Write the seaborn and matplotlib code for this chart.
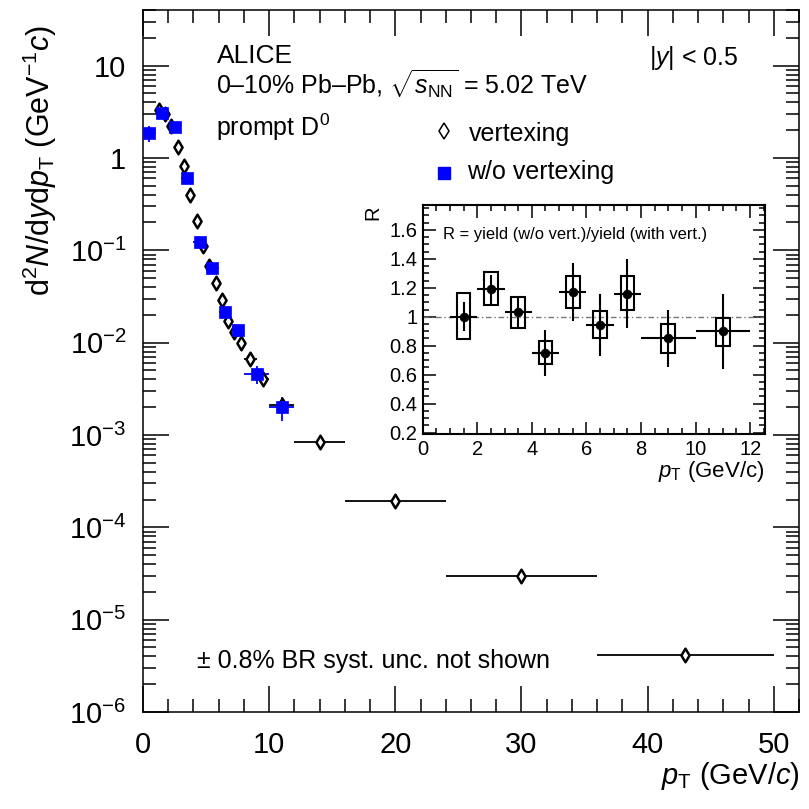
import numpy as np
import pandas as pd
import matplotlib
matplotlib.use("Agg")
import matplotlib.pyplot as plt
import seaborn as sns
from matplotlib.ticker import FixedLocator, MultipleLocator, LogLocator, FuncFormatter, NullFormatter
from matplotlib.patches import Rectangle

# ---------------- data ----------------
# vertexing analysis (open diamonds)
vtx_pt = [1.25, 1.75, 2.25, 2.75, 3.25, 3.75, 4.25, 4.75, 5.25, 5.75, 6.25, 6.75,
          7.25, 7.75, 8.5, 9.5, 11, 14, 20, 30, 43]
vtx_xerr = [0.25, 0.25, 0.25, 0.25, 0.25, 0.25, 0.25, 0.25, 0.25, 0.25, 0.25, 0.25,
            0.25, 0.25, 0.5, 0.5, 1, 2, 4, 6, 7]
vtx_yield = [3.3, 3.0, 2.2, 1.3, 0.82, 0.40, 0.21, 0.11, 0.067, 0.044, 0.029, 0.017,
             0.013, 0.0098, 0.0066, 0.0040, 0.0021, 8.3e-4, 1.95e-4, 3.0e-5, 4.1e-6]
vtx_relerr = [0.08, 0.06, 0.05, 0.05, 0.05, 0.05, 0.05, 0.05, 0.05, 0.05, 0.05, 0.06,
              0.06, 0.06, 0.06, 0.06, 0.06, 0.06, 0.07, 0.08, 0.12]

# without vertexing (blue squares)
nov_pt = [0.5, 1.5, 2.5, 3.5, 4.5, 5.5, 6.5, 7.5, 9, 11]
nov_xerr = [0.5, 0.5, 0.5, 0.5, 0.5, 0.5, 0.5, 0.5, 1, 1]
nov_yield = [1.87, 3.1, 2.15, 0.61, 0.124, 0.065, 0.0216, 0.0136, 0.0046, 0.0020]
nov_relerr = [0.2, 0.08, 0.06, 0.06, 0.08, 0.1, 0.12, 0.15, 0.22, 0.3]

# ratio inset
r_pt = [1.5, 2.5, 3.5, 4.5, 5.5, 6.5, 7.5, 9, 11]
r_xerr = [0.5, 0.5, 0.5, 0.5, 0.5, 0.5, 0.5, 1, 1]
r_val = [1.00, 1.19, 1.03, 0.75, 1.17, 0.945, 1.16, 0.85, 0.90]
r_stat = [0.10, 0.10, 0.115, 0.16, 0.20, 0.215, 0.24, 0.20, 0.26]
r_syst_lo = [0.845, 1.08, 0.925, 0.673, 1.06, 0.856, 1.05, 0.753, 0.80]
r_syst_hi = [1.167, 1.306, 1.134, 0.835, 1.28, 1.042, 1.28, 0.948, 0.988]

main_xticks = [0, 10, 20, 30, 40, 50]
main_yticks = [1e-6, 1e-5, 1e-4, 1e-3, 1e-2, 1e-1, 1, 10]
inset_xticks = [0, 2, 4, 6, 8, 10, 12]
inset_yticks = [0.2, 0.4, 0.6, 0.8, 1.0, 1.2, 1.4, 1.6]

# ---------------- style ----------------
sns.set_theme(style="ticks")
plt.rcParams['font.family'] = ['Liberation Sans', 'DejaVu Sans']
plt.rcParams['mathtext.fontset'] = 'custom'
plt.rcParams['mathtext.rm'] = 'Liberation Sans'
plt.rcParams['mathtext.it'] = 'Liberation Sans:italic'
plt.rcParams['mathtext.bf'] = 'Liberation Sans:bold'
plt.rcParams['axes.linewidth'] = 1.1
for k in ['text.color', 'axes.labelcolor', 'xtick.color', 'ytick.color', 'axes.edgecolor']:
    plt.rcParams[k] = 'black'

fig = plt.figure(figsize=(8.09, 8.09), dpi=100)
ax = fig.add_axes([143/809, 1-712/809, 656/809, 702/809])

df_vtx = pd.DataFrame({"pt": vtx_pt, "y": vtx_yield})
df_nov = pd.DataFrame({"pt": nov_pt, "y": nov_yield})

# error bars
ax.errorbar(vtx_pt, vtx_yield, xerr=vtx_xerr,
            yerr=np.array(vtx_yield) * np.array(vtx_relerr),
            fmt='none', ecolor='black', elinewidth=1.3, zorder=2)
ax.errorbar(nov_pt, nov_yield, xerr=nov_xerr,
            yerr=np.array(nov_yield) * np.array(nov_relerr),
            fmt='none', ecolor='#0000ff', elinewidth=1.3, zorder=3)

sns.scatterplot(data=df_vtx, x="pt", y="y", ax=ax, marker='d', s=48,
                facecolor='white', edgecolor='black', linewidth=1.8, zorder=4)
sns.scatterplot(data=df_nov, x="pt", y="y", ax=ax, marker='s', s=70,
                color='#0000ff', edgecolor='#0000ff', linewidth=0.5, zorder=5)

ax.set_yscale('log')
ax.set_xlim(0, 52)
ax.set_ylim(1e-6, 40)
ax.set_xlabel('')
ax.set_ylabel('')

ax.xaxis.set_major_locator(FixedLocator(main_xticks))
ax.xaxis.set_minor_locator(MultipleLocator(2))
ax.yaxis.set_major_locator(FixedLocator(main_yticks))
ax.yaxis.set_minor_locator(LogLocator(base=10, subs=np.arange(2, 10), numticks=30))
ax.yaxis.set_minor_formatter(NullFormatter())


def yfmt(v, pos):
    e = int(round(np.log10(v)))
    if e == 0:
        return "1"
    if e == 1:
        return "10"
    return r"10$^{%d}$" % e


ax.yaxis.set_major_formatter(FuncFormatter(yfmt))
ax.tick_params(which='both', direction='in', top=True, right=True, width=1.1)
ax.tick_params(which='major', length=19, labelsize=21, pad=14)
ax.tick_params(which='minor', length=9.5)
ax.tick_params(axis='y', which='major', pad=12)

# axis titles
fig.text(40/809, 1-25/809, r"d$^2$$N$/d$y$d$p_{\rm T}$ (GeV$^{-1}$$c$)",
         rotation=90, ha='center', va='top', fontsize=22)
fig.text(800/809, 1-776/809, r"$p_{\rm T}$ (GeV/$c$)", ha='right', va='center', fontsize=21)

# annotations
tf = dict(transform=ax.transAxes, fontsize=18, va='baseline', ha='left')
ax.text(0.112, 0.925, "ALICE", **dict(tf, fontsize=19))
ax.text(0.112, 0.880, r"0–10% Pb–Pb, $\sqrt{s_{\rm NN}}$ = 5.02 TeV", **tf)
ax.text(0.112, 0.821, r"prompt D$^0$", **tf)
ax.text(0.771, 0.922, r"|$y$| < 0.5", **tf)
ax.text(0.082, 0.0627, r"± 0.8% BR syst. unc. not shown", **tf)

# legend (manual)
ax.plot([0.459], [0.828], transform=ax.transAxes, marker='d', ms=8, mfc='white',
        mec='black', mew=1.1, ls='none', clip_on=False)
ax.text(0.497, 0.814, "vertexing", **tf)
ax.plot([0.459], [0.768], transform=ax.transAxes, marker='s', ms=8, mfc='#0000ff',
        mec='#0000ff', ls='none', clip_on=False)
ax.text(0.494, 0.759, "w/o vertexing", **tf)

# ---------------- inset ----------------
ax2 = fig.add_axes([422.7/809, 1-434/809, 341.9/809, 228.7/809])
ax2.set_facecolor('white')
ax2.axhline(1.0, color='#777777', lw=1.0, ls=(0, (4, 2, 1, 2)), zorder=1)
for x, lo, hi in zip(r_pt, r_syst_lo, r_syst_hi):
    ax2.add_patch(Rectangle((x-0.25, lo), 0.5, hi-lo, fill=False,
                            edgecolor='black', lw=1.5, zorder=2))
ax2.errorbar(r_pt, r_val, xerr=r_xerr, yerr=r_stat, fmt='none', ecolor='black',
             elinewidth=1.5, zorder=3)
df_r = pd.DataFrame({"pt": r_pt, "R": r_val})
sns.scatterplot(data=df_r, x="pt", y="R", ax=ax2, marker='o', s=40, color='black',
                edgecolor='black', zorder=4)
ax2.set_xlim(0, 12.53)
ax2.set_ylim(0.19, 1.77)
ax2.set_xlabel('')
ax2.set_ylabel('')
ax2.xaxis.set_major_locator(FixedLocator(inset_xticks))
ax2.xaxis.set_minor_locator(MultipleLocator(0.5))
ax2.yaxis.set_major_locator(FixedLocator(inset_yticks))
ax2.yaxis.set_minor_locator(MultipleLocator(0.05))
ax2.yaxis.set_major_formatter(FuncFormatter(lambda v, p: "1" if abs(v-1) < 1e-6 else "%.1f" % v))
ax2.tick_params(which='both', direction='in', top=True, right=True, width=1.1)
ax2.tick_params(which='major', length=9, labelsize=14.5, pad=4)
ax2.tick_params(which='minor', length=4.5)
for s in ax2.spines.values():
    s.set_linewidth(1.5)
ax2.text(0.059, 0.874, "R = yield (w/o vert.)/yield (with vert.)", transform=ax2.transAxes,
         fontsize=11.9, ha='left', va='center')
ax2.text(-0.145, 1.0, "R", transform=ax2.transAxes, rotation=90, fontsize=14.5,
         ha='center', va='top')
ax2.text(1.0, -0.165, r"$p_{\rm T}$ (GeV/c)", transform=ax2.transAxes, fontsize=16,
         ha='right', va='center')

fig.savefig("out.png", dpi=100)
